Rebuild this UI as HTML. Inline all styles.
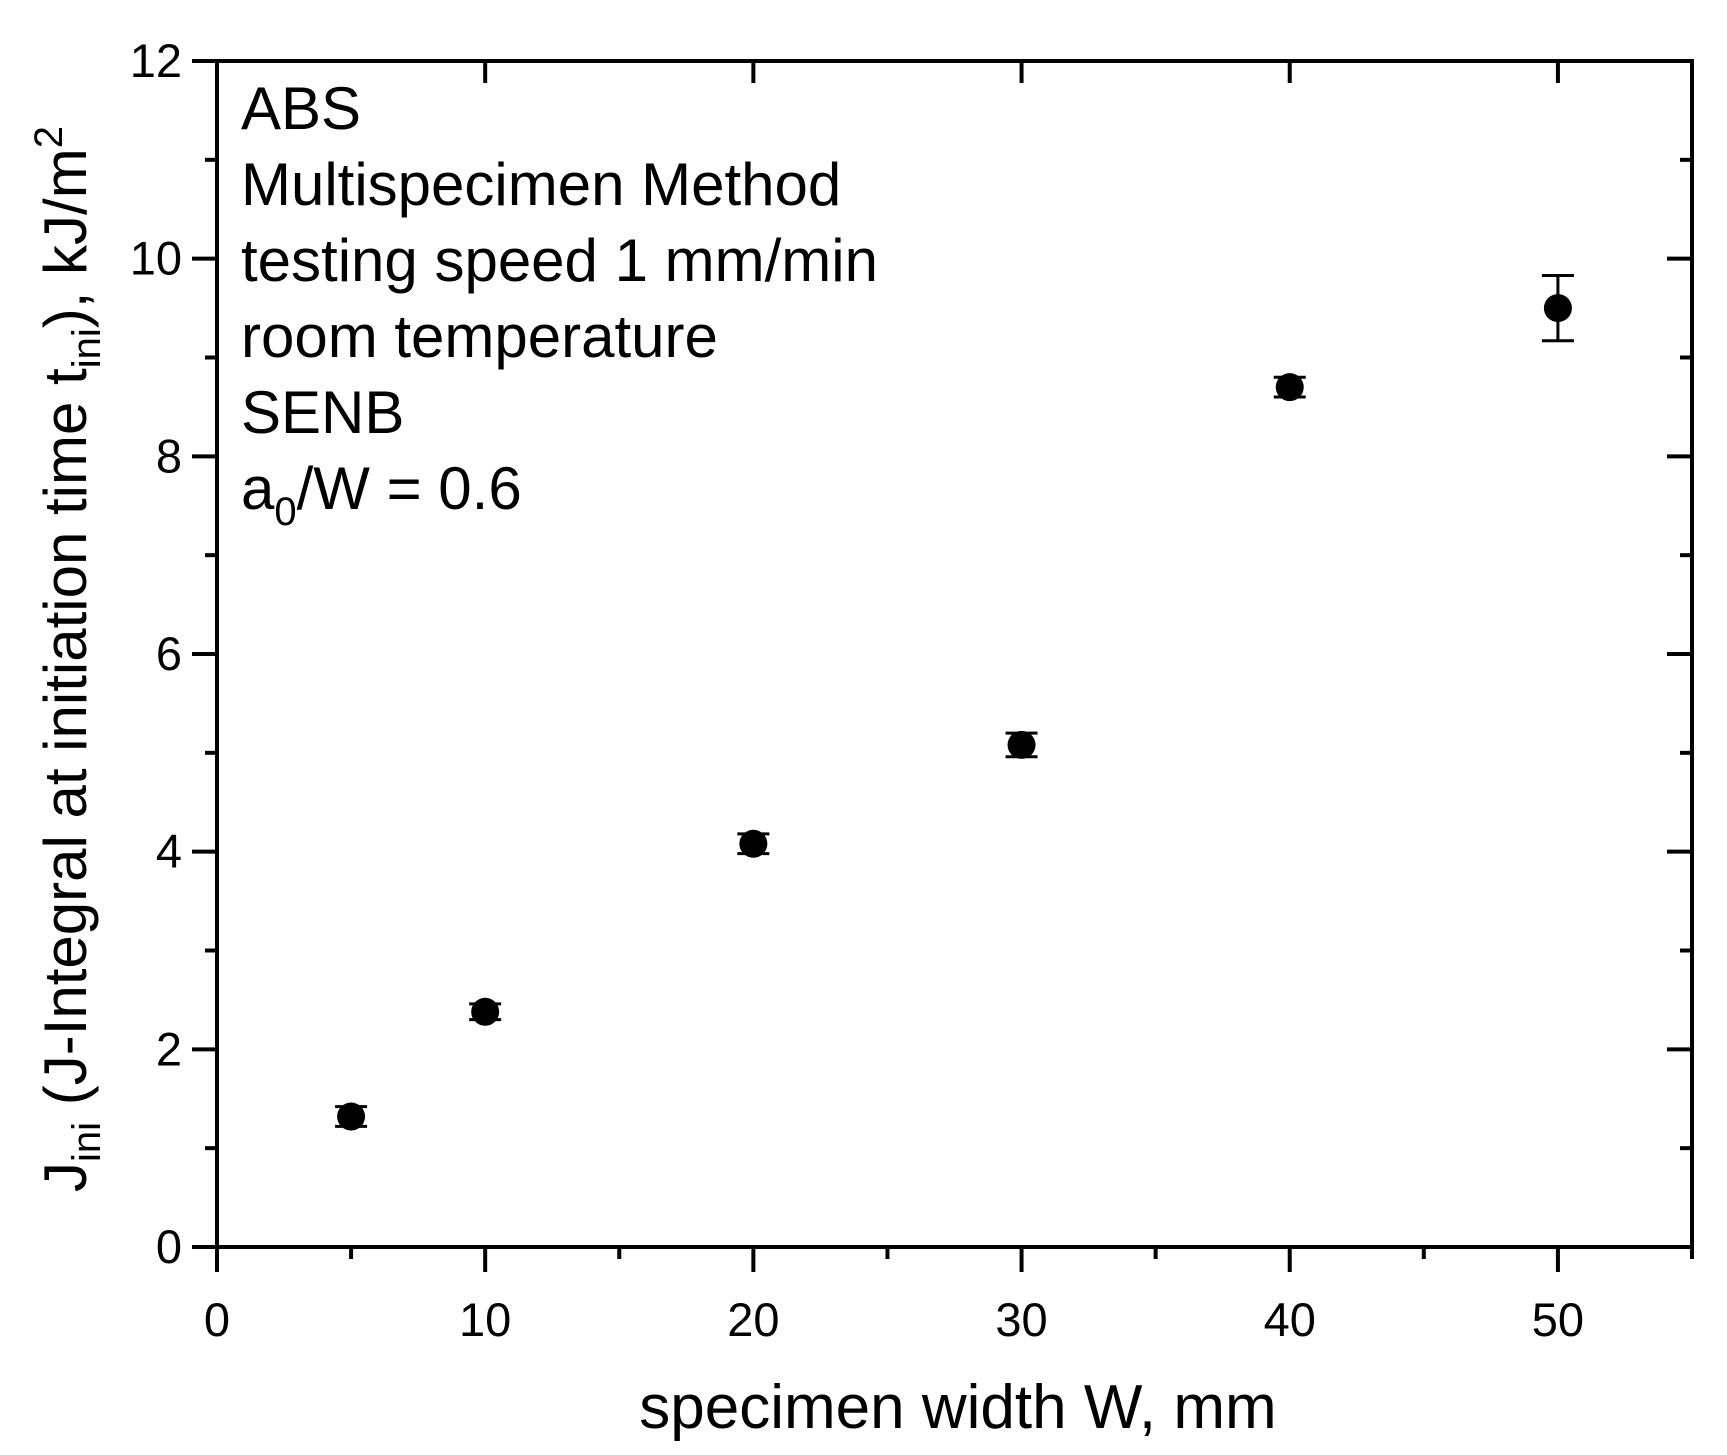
<!DOCTYPE html>
<html><head><meta charset="utf-8"><style>body{margin:0;background:#fff}svg{display:block}text{font-family:"Liberation Sans",Arial,sans-serif;fill:#000}</style></head>
<body>
<svg id="chart" width="1727" height="1455" viewBox="0 0 1727 1455">
<rect x="217" y="61" width="1475" height="1186" fill="none" stroke="#000" stroke-width="4"/>
<g id="ticks"></g>
<g id="points"></g>
<g font-size="60">
<text x="241" y="129">ABS</text>
<text x="241" y="205">Multispecimen Method</text>
<text x="241" y="281">testing speed 1 mm/min</text>
<text x="241" y="357">room temperature</text>
<text x="241" y="433">SENB</text>
<text x="241" y="509">a<tspan font-size="40" dy="16">0</tspan><tspan dy="-16">/W = 0.6</tspan></text>
</g>
<text x="958" y="1428" font-size="62" text-anchor="middle">specimen width W, mm</text>
<text transform="translate(86,659) rotate(-90)" font-size="60" text-anchor="middle">J<tspan font-size="40" dy="14">ini</tspan><tspan dy="-14"> (J-Integral at initiation time t</tspan><tspan font-size="40" dy="14">ini</tspan><tspan dy="-14">), kJ/m</tspan><tspan font-size="40" dy="-24">2</tspan></text>
</svg>
<script>
const widths=[5,10,20,30,40,50];
const jValues=[1.32,2.38,4.08,5.08,8.7,9.5];
const jErrors=[0.1,0.08,0.1,0.12,0.1,0.33];
const xTicks=[0,10,20,30,40,50];
const yTicks=[0,2,4,6,8,10,12];
const NS='http://www.w3.org/2000/svg';
const X0=217,X1=1692,Y0=1247,Y1=61;
const sx=v=>X0+(v/55)*(X1-X0);
const sy=v=>Y0-(v/12)*(Y0-Y1);
function mk(tag,attrs,parent){const e=document.createElementNS(NS,tag);for(const k in attrs)e.setAttribute(k,attrs[k]);parent.appendChild(e);return e;}
const tg=document.getElementById('ticks');
for(let v=0;v<=55;v+=5){const major=v%10===0;const x=sx(v);const L=major?25:12;
 let t=mk('line',{x1:x,x2:x,y1:Y0,y2:Y0+L,stroke:'#000','stroke-width':4},tg);
 
 let t2=mk('line',{x1:x,x2:x,y1:Y1,y2:Y1+(major?22:0),stroke:'#000','stroke-width':4},tg);
 }
for(let v=0;v<=12;v+=1){const major=v%2===0;const y=sy(v);const L=major?25:12;
 let t=mk('line',{x1:X0-L,x2:X0,y1:y,y2:y,stroke:'#000','stroke-width':4},tg);
 
 let t2=mk('line',{x1:X1-L,x2:X1,y1:y,y2:y,stroke:'#000','stroke-width':4},tg);
 }
xTicks.forEach(v=>{const t=mk('text',{x:sx(v),y:1336,'font-size':47,'text-anchor':'middle'},tg);t.textContent=v;
 });
yTicks.forEach(v=>{const t=mk('text',{x:182,y:sy(v)+16,'font-size':47,'text-anchor':'end'},tg);t.textContent=v;
 });
const pg=document.getElementById('points');
widths.forEach((w,i)=>{const x=sx(w),y=sy(jValues[i]),yt=sy(jValues[i]+jErrors[i]),yb=sy(jValues[i]-jErrors[i]);
 const g=mk('g',{},pg);
 
 
 mk('line',{x1:x,x2:x,y1:yt,y2:yb,stroke:'#000','stroke-width':3},g);
 mk('line',{x1:x-16,x2:x+16,y1:yt,y2:yt,stroke:'#000','stroke-width':3},g);
 mk('line',{x1:x-16,x2:x+16,y1:yb,y2:yb,stroke:'#000','stroke-width':3},g);
 mk('circle',{cx:x,cy:y,r:14,fill:'#000'},g);});
</script>
</body></html>
